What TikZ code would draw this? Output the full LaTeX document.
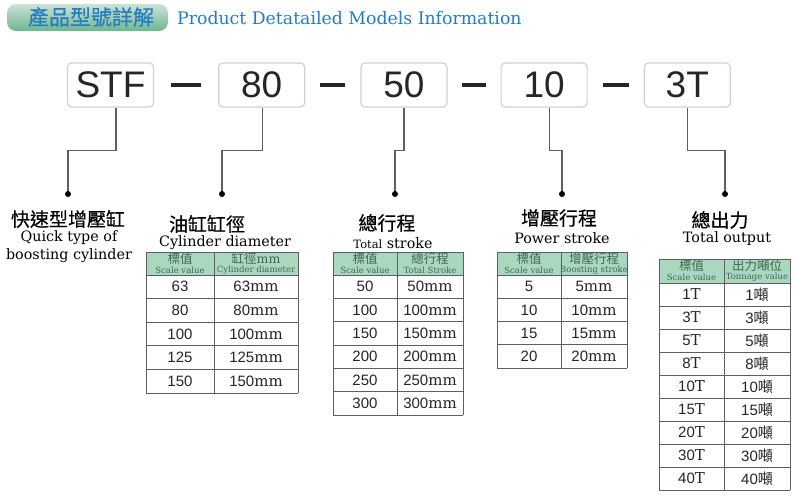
\documentclass[tikz,border=0pt]{standalone}
\usepackage{fontspec}
\setmainfont{DejaVu Serif}
\newfontfamily\cjk{Noto Sans CJK TC}
\newfontfamily\cjkb[FakeBold=0.5]{Noto Sans CJK TC}
\newfontfamily\sans{Liberation Sans}
\usetikzlibrary{positioning,calc}
\definecolor{TitleBlue}{RGB}{38,124,194}
\definecolor{PillTop}{RGB}{205,226,214}
\definecolor{PillGreen}{RGB}{108,182,144}
\definecolor{HeadGreen}{RGB}{170,216,190}
\definecolor{HeadText}{RGB}{62,104,84}
\definecolor{LeadGray}{RGB}{95,95,95}
\definecolor{InkGray}{RGB}{38,38,38}
\newcommand{\num}[1]{{\sans #1}}
\tikzset{
  codebox/.style={draw=gray!35, line width=1.2pt, rounded corners=4pt, minimum width=86pt,
    minimum height=44pt, inner sep=0pt, text=InkGray, font=\sans\fontsize{37}{37}\selectfont},
  dashbar/.style={InkGray, line width=3.5pt},
  lead/.style={LeadGray, line width=1.2pt},
  cnlabel/.style={inner sep=0pt, font=\cjkb\fontsize{19}{19}\selectfont},
  enlabel/.style={inner sep=0pt, align=center, font=\fontsize{14.3}{18}\selectfont},
  tabline/.style={LeadGray, line width=0.9pt},
  cell/.style={inner sep=0pt, text=InkGray, font=\fontsize{15}{15}\selectfont},
  headcn/.style={inner sep=0pt, text=HeadText, font=\cjk\fontsize{12.5}{12.5}\selectfont},
  headen/.style={inner sep=0pt, text=HeadText, font=\fontsize{8.5}{8.5}\selectfont}
}

\begin{document}
\begin{tikzpicture}[x=1pt,y=-1pt]
	\useasboundingbox (0,0) rectangle (800,499);
	\fill[white] (0,0) rectangle (800,499);
	% title bar
	\shade[top color=PillTop, middle color=white, bottom color=PillGreen, rounded corners=9pt] (7,4) rectangle (168,31);
	\node[text=TitleBlue, font=\cjkb\fontsize{21}{21}\selectfont] (ttlcn) at (91,17) {產品型號詳解};
	\node[anchor=west, inner sep=0pt, text=TitleBlue, font=\fontsize{17.3}{17}\selectfont] (ttlen) at (177,18) {Product Detatailed Models Information};
	% code boxes
	\node[codebox] (stf) at (110.5,85) {STF};
	\node[codebox, right=64pt of stf] (dia) {80};
	\node[codebox, right=55pt of dia] (str) {50};
	\node[codebox, right=53pt of str] (pwr) {10};
	\node[codebox, right=56pt of pwr] (out) {3T};
	\foreach \a/\b in {stf/dia,dia/str,str/pwr,pwr/out}
		\draw[dashbar] ($(\a.east)!0.27!(\b.west)$) -- ($(\a.east)!0.73!(\b.west)$);
	% leads down to the labels
	\coordinate (d1) at (68,194);
	\coordinate (d2) at (222,194);
	\coordinate (d3) at (395,194);
	\coordinate (d4) at (562,194);
	\coordinate (d5) at (725,194);
	\draw[lead] ([xshift=5.5pt]stf.south) -- ++(0,43) -| (d1);
	\draw[lead] ([xshift=1pt]dia.south) -- ++(0,43) -| (d2);
	\draw[lead] (str.south) -- ++(0,43) -| (d3);
	\draw[lead] ([xshift=5.5pt]pwr.south) -- ++(0,43) -| (d4);
	\draw[lead] (out.south) -- ++(0,43) -| (d5);
	\foreach \d in {d1,d2,d3,d4,d5} \fill[black] (\d) circle (3pt);
	% labels
	\node[cnlabel] (l1cn) at (68,219) {快速型增壓缸};
	\node[enlabel] (l1en) at (69,247) {Quick type of\\boosting cylinder};
	\node[cnlabel] (l2cn) at (207,224) {油缸缸徑};
	\node[enlabel] (l2en) at (225,243) {Cylinder diameter};
	\node[cnlabel] (l3cn) at (387,223) {總行程};
	\node[enlabel] (l3en) at (393,243) {{\fontsize{11.5}{11}\selectfont Total} stroke};
	\node[cnlabel] (l4cn) at (559,218) {增壓行程};
	\node[enlabel] (l4en) at (562,238) {Power stroke};
	\node[cnlabel] (l5cn) at (720,220) {總出力};
	\node[enlabel] (l5en) at (727,239) {Total output};
	% table: cylinder diameter
	\fill[HeadGreen] (146,252) rectangle (298,275);
	\foreach \yy in {252,275,298.6,322.2,345.8,369.4,393} \draw[tabline] (146,\yy) -- (298,\yy);
	\draw[tabline] (146,252) -- (146,393) (214,252) -- (214,393) (298,252) -- (298,393);
	\node[headcn] (t1h1) at (180,258.5) {標值};
	\node[headen] (t1s1) at (180,270.5) {Scale value};
	\node[headcn] (t1h2) at (256,258.5) {缸徑\rmfamily mm};
	\node[headen] (t1s2) at (256,270.5) {Cylinder diameter};
	\foreach \v [count=\i] in {63,80,100,125,150} {
		\node[cell] (t1a\i) at (180,{263.2+23.6*\i}) {\num{\v}};
		\node[cell] (t1b\i) at (256,{263.2+23.6*\i}) {\num{\v}mm};
	}
	% table: total stroke
	\fill[HeadGreen] (333,252) rectangle (463,275);
	\foreach \yy in {252,275,298.3,321.7,345,368.3,391.7,415} \draw[tabline] (333,\yy) -- (463,\yy);
	\draw[tabline] (333,252) -- (333,415) (397,252) -- (397,415) (463,252) -- (463,415);
	\node[headcn] (t2h1) at (365,258.5) {標值};
	\node[headen] (t2s1) at (365,270.5) {Scale value};
	\node[headcn] (t2h2) at (430,258.5) {總行程};
	\node[headen] (t2s2) at (430,270.5) {Total Stroke};
	\foreach \v [count=\i] in {50,100,150,200,250,300} {
		\node[cell] (t2a\i) at (365,{263.3+23.33*\i}) {\num{\v}};
		\node[cell] (t2b\i) at (430,{263.3+23.33*\i}) {\num{\v}mm};
	}
	% table: power stroke
	\fill[HeadGreen] (497,252) rectangle (627,275);
	\foreach \yy in {252,275,298.3,321.5,344.8,368} \draw[tabline] (497,\yy) -- (627,\yy);
	\draw[tabline] (497,252) -- (497,368) (561,252) -- (561,368) (627,252) -- (627,368);
	\node[headcn] (t3h1) at (529,258.5) {標值};
	\node[headen] (t3s1) at (529,270.5) {Scale value};
	\node[headcn] (t3h2) at (594,258.5) {增壓行程};
	\node[headen] (t3s2) at (594,270.5) {Boosting stroke};
	\foreach \v [count=\i] in {5,10,15,20} {
		\node[cell] (t3a\i) at (529,{263.4+23.25*\i}) {\num{\v}};
		\node[cell] (t3b\i) at (594,{263.4+23.25*\i}) {\num{\v}mm};
	}
	% table: total output
	\fill[HeadGreen] (659,259) rectangle (790,283);
	\foreach \yy in {259,283,306,329,352,375,398,421,444,467,490} \draw[tabline] (659,\yy) -- (790,\yy);
	\draw[tabline] (659,259) -- (659,490) (724,259) -- (724,490) (790,259) -- (790,490);
	\node[headcn] (t4h1) at (691.5,265.5) {標值};
	\node[headen] (t4s1) at (691.5,277.5) {Scale value};
	\node[headcn] (t4h2) at (757,265.5) {出力噸位};
	\node[headen] (t4s2) at (757,277.5) {Tonnage value};
	\foreach \v [count=\i] in {1,3,5,8,10,15,20,30,40} {
		\node[cell] (t4a\i) at (691.5,{271.5+23*\i}) {\num{\v}T};
		\node[cell] (t4b\i) at (757,{271.5+23*\i}) {\num{\v}{\cjk 噸}};
	}
\end{tikzpicture}
\end{document}
